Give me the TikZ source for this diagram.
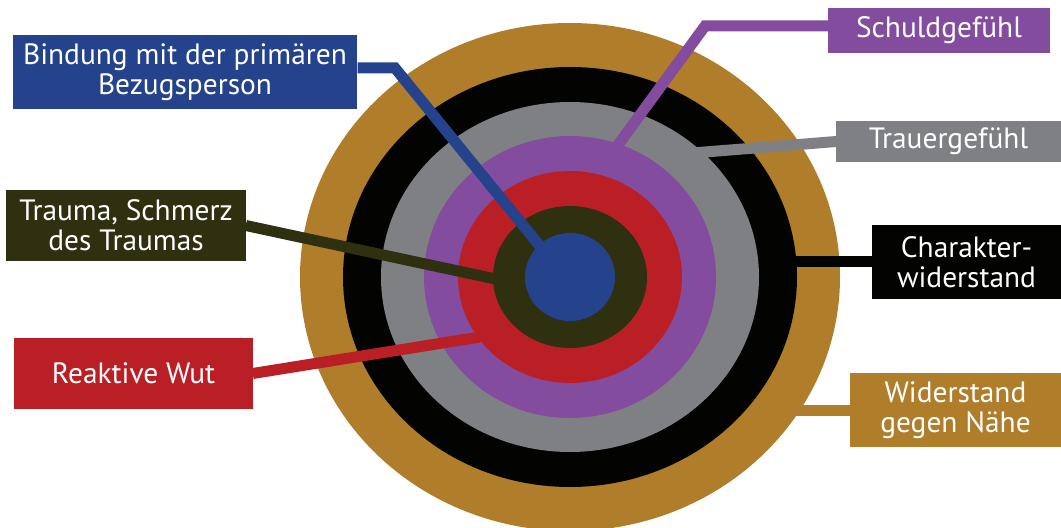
\documentclass[tikz,border=0pt]{standalone}
\usepackage{fontspec}
\setmainfont{PT Sans}
\definecolor{ringgold}{RGB}{176,125,43}
\definecolor{ringblack}{RGB}{3,4,2}
\definecolor{ringgray}{RGB}{127,128,132}
\definecolor{ringpurple}{RGB}{131,76,158}
\definecolor{ringred}{RGB}{186,31,37}
\definecolor{ringolive}{RGB}{47,48,15}
\definecolor{ringblue}{RGB}{36,67,140}
\tikzset{
  labelbox/.style={fill=#1,text=white,inner sep=0pt,align=center,
    font=\fontsize{29.5}{30}\selectfont},
  conn/.style={draw=#1,line width=11bp,line join=miter}
}
\begin{document}
\begin{tikzpicture}[x=1bp,y=-1bp]
  \useasboundingbox (0,0) rectangle (1061,528);
  \coordinate (ctr) at (570,277);
  % concentric rings, outside in
  \foreach \rx/\ry/\col in {270/254/ringgold,227/210/ringblack,
      189/175/ringgray,146/141/ringpurple,112/106/ringred,
      77/71/ringolive,45/44/ringblue} {
    \fill[\col] (ctr) ellipse[x radius=\rx,y radius=\ry];
  }

  \node[labelbox=ringblue,minimum width=346,minimum height=74]
    (bindung) at (185,72) {Bindung mit der primären\\Bezugsperson};
  \node[labelbox=ringpurple,minimum width=222,minimum height=45]
    (schuld) at (939,30.5) {Schuldgefühl};
  \node[labelbox=ringgray,minimum width=225,minimum height=41]
    (trauer) at (948.5,141.5) {Trauergefühl};
  \node[labelbox=ringblack,minimum width=189,minimum height=74]
    (charakter) at (966.5,262) {Charakter-\\widerstand};
  \node[labelbox=ringgold,minimum width=211,minimum height=74]
    (naehe) at (955.5,410) {Widerstand\\gegen Nähe};
  \node[labelbox=ringolive,minimum width=240,minimum height=71]
    (trauma) at (126,225.5) {Trauma, Schmerz\\des Traumas};
  \node[labelbox=ringred,minimum width=239,minimum height=71]
    (wut) at (133.5,373.5) {Reaktive Wut};

  % bends and ends of the leader lines
  \coordinate (kB) at (395,68);
  \coordinate (zB) at (548,256);
  \coordinate (kS) at (705,26);
  \coordinate (zS) at (607,160);
  \coordinate (zT) at (680,154);
  \coordinate (zC) at (780,262);
  \coordinate (zN) at (775,410);
  \coordinate (zTr) at (500,280);
  \coordinate (zW) at (480,337);

  \draw[conn=ringblue] (bindung.east |- kB) -- (kB) -- (zB);
  \draw[conn=ringpurple] (schuld.west |- kS) -- (kS) -- (zS);
  \draw[conn=ringgray] (trauer.west) -- (zT);
  \draw[conn=ringblack] (charakter.west) -- (zC);
  \draw[conn=ringgold] (naehe.west) -- (zN);
  \draw[conn=ringolive] (trauma.east) -- (zTr);
  \draw[conn=ringred] (wut.east) -- (zW);
\end{tikzpicture}
\end{document}
